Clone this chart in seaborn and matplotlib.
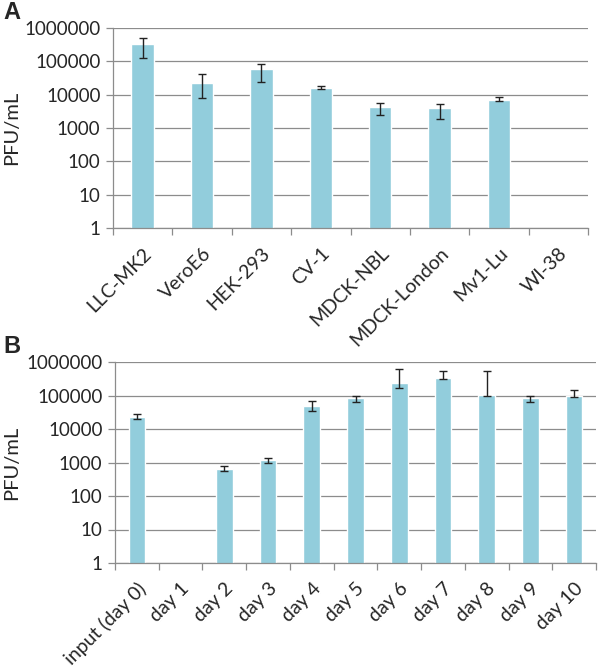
import numpy as np
import pandas as pd
import matplotlib
matplotlib.use("Agg")
import matplotlib.pyplot as plt
import matplotlib.ticker as mticker
import seaborn as sns

# panel A: titre per cell line (PFU/mL), lower / upper ends of the error bars
cells = ["LLC-MK2", "VeroE6", "HEK-293", "CV-1", "MDCK-NBL", "MDCK-London", "Mv1-Lu", "WI-38"]
cells_pfu = [340000, 22600, 60000, 16300, 4200, 3900, 7100, np.nan]
cells_lo = [122000, 7800, 23700, 14800, 2450, 1820, 6300, np.nan]
cells_hi = [485000, 42300, 81000, 18300, 5600, 5250, 8300, np.nan]

# panel B: titre over time
days = ["input (day 0)", "day 1", "day 2", "day 3", "day 4", "day 5",
        "day 6", "day 7", "day 8", "day 9", "day 10"]
days_pfu = [23500, np.nan, 630, 1150, 47000, 83000, 236000, 335000, 107000, 83000, 100000]
days_lo = [19600, np.nan, 550, 980, 33800, 65000, 168000, 305000, 100000, 65000, 88000]
days_hi = [28800, np.nan, 775, 1410, 68000, 93500, 620000, 556000, 556000, 100000, 144000]

ytick_vals = [1, 10, 100, 1000, 10000, 100000, 1000000]
ytick_labels = ["1", "10", "100", "1000", "10000", "100000", "1000000"]

sns.set_theme(style="white")
plt.rcParams["font.family"] = ["Lato", "DejaVu Sans"]

bar_col = "#92CDDC"
axis_col = "#8C8C8C"

fig = plt.figure(figsize=(6, 6.69), dpi=100)
ax_a = fig.add_axes([113 / 600, 1 - 228 / 669, 475 / 600, 200 / 669])
ax_b = fig.add_axes([115 / 600, 1 - 563 / 669, 481 / 600, 201 / 669])


def draw_panel(ax, cats, vals, lo, hi, letter):
    df = pd.DataFrame({"cat": cats, "pfu": vals})
    sns.barplot(ax=ax, data=df, x="cat", y="pfu", order=cats, color=bar_col,
                saturation=1, width=0.38, errorbar=None)
    v = np.array(vals, dtype=float)
    err = [v - np.array(lo, dtype=float), np.array(hi, dtype=float) - v]
    ax.errorbar(np.arange(len(cats)), v, yerr=err, fmt="none", ecolor="#222222",
                elinewidth=1, capsize=3, capthick=1, zorder=4)

    ax.set_yscale("log")
    ax.set_ylim(1, 1e6)
    ax.set_xlim(-0.5, len(cats) - 0.5)
    ax.set_yticks(ytick_vals)
    ax.set_yticklabels(ytick_labels)
    ax.yaxis.set_minor_locator(mticker.NullLocator())
    ax.grid(axis="y", color=axis_col, linewidth=0.9)
    ax.set_axisbelow(True)

    ax.set_xticks(np.arange(len(cats)))
    ax.set_xticklabels(cats, rotation=45, ha="right", rotation_mode="anchor")
    ax.set_xticks(np.arange(len(cats) + 1) - 0.5, minor=True)
    ax.tick_params(axis="x", which="major", length=0, pad=12, labelsize=14)
    ax.tick_params(axis="x", which="minor", length=5, width=0.9, color=axis_col,
                   direction="out", bottom=True)
    ax.tick_params(axis="y", which="major", length=5, width=0.9, color=axis_col,
                   direction="out", left=True, labelsize=13.5, pad=4)

    for s in ["top", "right"]:
        ax.spines[s].set_visible(False)
    for s in ["left", "bottom"]:
        ax.spines[s].set_color(axis_col)
        ax.spines[s].set_linewidth(0.9)

    w = ax.get_position().width * 600
    x0 = ax.get_position().x0 * 600
    ax.set_xlabel("")
    ax.set_ylabel("PFU/mL", fontsize=14.5)
    ax.yaxis.set_label_coords((3 - x0) / w, 0.5)
    ax.yaxis.label.set_va("top")
    ax.text((3 - x0) / w, 1.02, letter, transform=ax.transAxes, fontsize=17,
            fontweight="bold", ha="left", va="bottom", family="Liberation Sans")


draw_panel(ax_a, cells, cells_pfu, cells_lo, cells_hi, "A")
draw_panel(ax_b, days, days_pfu, days_lo, days_hi, "B")

fig.savefig("out.png", dpi=100)
